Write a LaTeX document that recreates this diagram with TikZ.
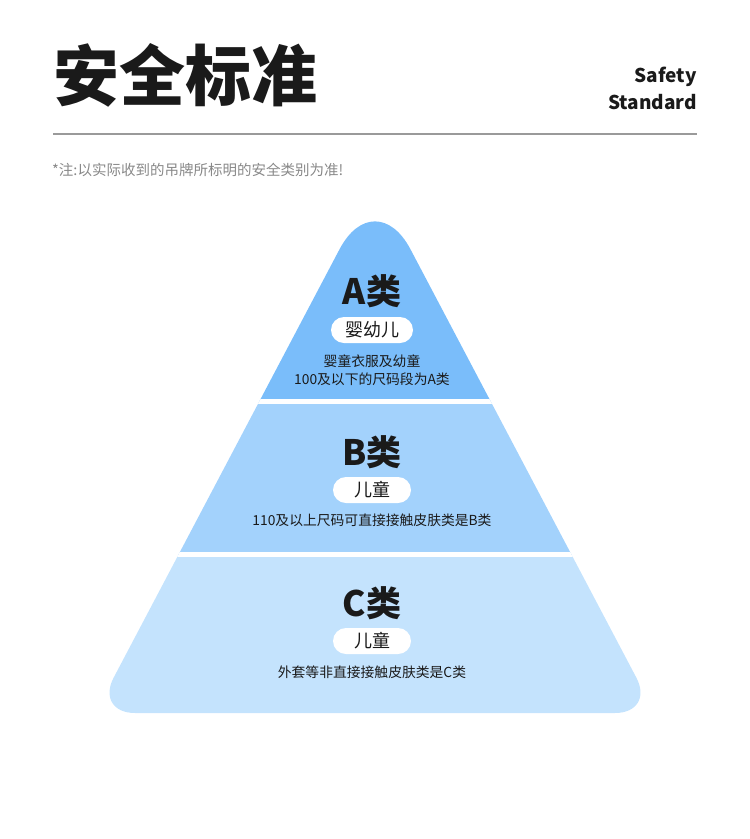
\documentclass[tikz,border=0pt]{standalone}
\usepackage{fontspec}
\setmainfont{Noto Sans CJK SC}
\usetikzlibrary{positioning}

\definecolor{bandA}{HTML}{7ABDFA}
\definecolor{bandB}{HTML}{A3D2FC}
\definecolor{bandC}{HTML}{C4E3FD}
\definecolor{ink}{HTML}{1A1A1A}
\definecolor{rulegray}{HTML}{9A9A9A}
\definecolor{notegray}{HTML}{888888}

\begin{document}
\begin{tikzpicture}[x=1pt,y=-1pt,
    lvl/.style={font=\fontsize{35}{40}\selectfont\bfseries,text=ink,inner sep=0pt},
    tag/.style={fill=white,rounded corners=13pt,minimum width=80pt,minimum height=26pt,font=\fontsize{18}{20}\selectfont,text=ink,inner sep=0pt},
    desc/.style={font=\fontsize{13.8}{18}\selectfont,text=ink,align=center,inner sep=0pt}]
  \useasboundingbox (0,0) rectangle (750,839);
  \node[anchor=west,inner sep=0pt,font=\fontsize{66}{70}\selectfont\bfseries,text=ink] (title) at (53,75) {安全标准};
  \node[anchor=east,align=right,inner sep=0pt,font=\fontsize{19}{27}\selectfont\bfseries,text=ink] (sub) at (697,88) {Safety\\Standard};
  \draw[rulegray,line width=1.5pt] (53,134) -- (697,134);
  \node[anchor=west,inner sep=0pt,text=notegray,font=\fontsize{14.5}{16}\selectfont] (note) at (52,170) {*注:以实际收到的吊牌所标明的安全类别为准!};
  % pyramid bands
  \begin{scope}
    \clip (375,713) [rounded corners=40pt] -- (95,713) [rounded corners=76pt] -- (375,182) [rounded corners=40pt] -- (655,713) -- cycle;
    \fill[bandA] (0,150) rectangle (750,401);
    \fill[bandB] (0,401) rectangle (750,554.5);
    \fill[bandC] (0,554.5) rectangle (750,720);
    \draw[white,line width=5pt] (0,401) -- (750,401);
    \draw[white,line width=5pt] (0,554.5) -- (750,554.5);
  \end{scope}
  \foreach \k/\yl/\yt/\tg/\w in {A/291/330/婴幼儿/82,B/452/490/儿童/78,C/603/641/儿童/78} {
    \node[lvl] (lvl\k) at (372,\yl) {\k 类};
    \node[tag,minimum width=\w pt] (tag\k) at (372,\yt) {\tg};
  }
  \node[desc] (descA) at (372,370) {婴童衣服及幼童\\100及以下的尺码段为A类};
  \node[desc] (descB) at (372,520) {110及以上尺码可直接接触皮肤类是B类};
  \node[desc] (descC) at (372,672) {外套等非直接接触皮肤类是C类};
\end{tikzpicture}
\end{document}
